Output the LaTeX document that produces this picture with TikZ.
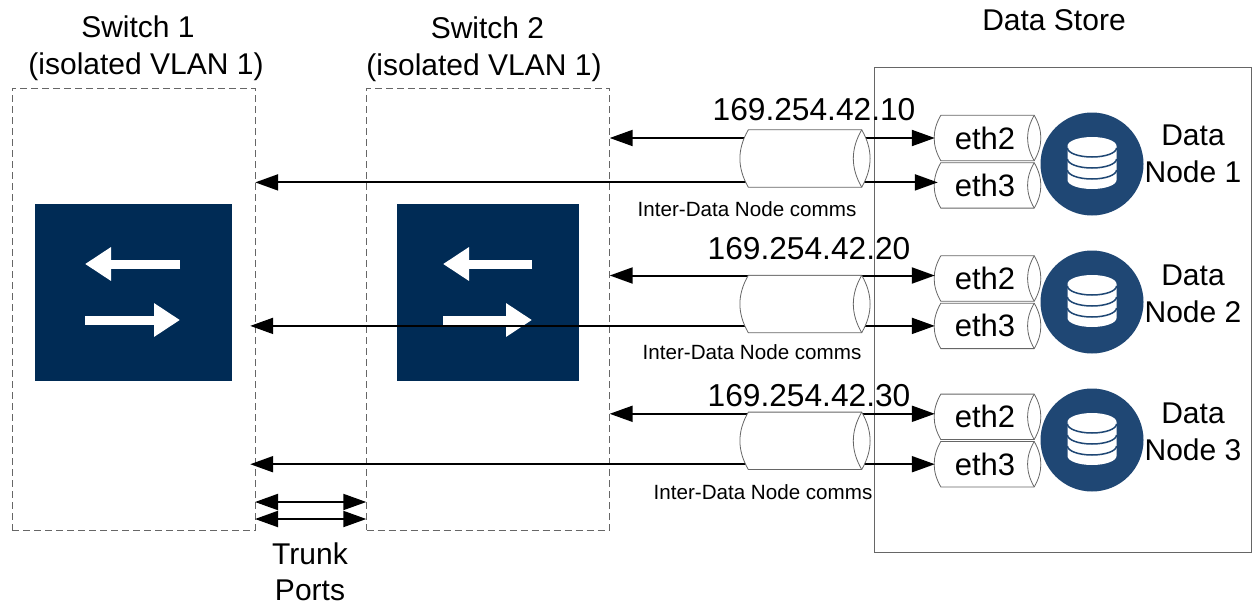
\documentclass[tikz,border=0pt]{standalone}
\usepackage{fontspec}
\setmainfont{Liberation Sans}
\usepackage{xcolor}
\usetikzlibrary{arrows.meta,positioning}
\definecolor{switchblue}{HTML}{002B55}
\definecolor{nodeblue}{HTML}{1F4774}
\tikzset{
  label text/.style={font=\fontsize{30}{36.5}\selectfont, align=center, inner sep=0pt},
  ip text/.style={font=\fontsize{31.7}{36}\selectfont, inner sep=0pt},
  comms text/.style={font=\fontsize{20.6}{24}\selectfont, inner sep=0pt},
  switch box/.style={draw=black!60, dashed, dash pattern=on 7pt off 4pt, minimum width=243pt, minimum height=442pt, inner sep=0pt},
  switch icon/.style={fill=switchblue, inner sep=0pt},
  port/.style={minimum width=105pt, minimum height=45pt, inner sep=0pt, font=\fontsize{31}{36}\selectfont, execute at end node=\kern5pt},
  bond/.style={minimum width=128pt, minimum height=57pt, inner sep=0pt},
  tube line/.style={draw=black!60, line width=0.8pt},
  data node/.style={circle, fill=nodeblue, minimum size=103pt, inner sep=0pt},
  link/.style={line width=2pt, {Triangle[length=23pt,width=16pt]}-{Triangle[length=23pt,width=16pt]}},
  white arrow/.style={white, line width=9pt, -{Triangle[length=26pt,width=32pt]}},
}
\newcommand{\tube}[3]{
  \path[tube line, #3] ([xshift=#2]#1.north west) -- ([xshift=-#2]#1.north east)
    to[bend left=30] ([xshift=-#2]#1.south east)
    -- ([xshift=#2]#1.south west) to[bend left=30] ([xshift=#2]#1.north west) -- cycle;
  \draw[tube line] ([xshift=-#2]#1.north east) to[bend right=30] ([xshift=-#2]#1.south east);
}
\newcommand{\dbicon}[1]{
  \fill[white] ([xshift=-24.5pt,yshift=18pt]#1.center) arc[x radius=24.5pt,y radius=9pt,start angle=180,end angle=0]
    -- ([xshift=24.5pt,yshift=-16pt]#1.center) arc[x radius=24.5pt,y radius=9pt,start angle=0,end angle=-180] -- cycle;
  \draw[nodeblue, line width=1.5pt] ([xshift=-24.5pt,yshift=16pt]#1.center) arc[x radius=24.5pt,y radius=9pt,start angle=180,end angle=360];
  \draw[nodeblue, line width=1.5pt] ([xshift=-24.5pt,yshift=5pt]#1.center) arc[x radius=24.5pt,y radius=9pt,start angle=180,end angle=360];
  \draw[nodeblue, line width=1.5pt] ([xshift=-24.5pt,yshift=-6pt]#1.center) arc[x radius=24.5pt,y radius=9pt,start angle=180,end angle=360];
}
\begin{document}
\begin{tikzpicture}[x=1pt,y=-1pt]
  \useasboundingbox (0,0) rectangle (1252,605);
  \node[switch box]                    (switch 1) at (133.5,309) {};
  \node[switch box]                    (switch 2) at (488,309) {};
  \node[draw=black!60, minimum width=377pt, minimum height=485pt, inner sep=0pt]
                                       (store) at (1062.5,309.5) {};
  \node[switch icon, minimum width=197pt, minimum height=177pt] (icon 1) at (133.5,292.5) {};
  \node[switch icon, minimum width=182pt, minimum height=177pt] (icon 2) at (488,292.5) {};

  \draw[white arrow] (180,264) -- (85,264);
  \draw[white arrow] (85,320) -- (180,320);
  \draw[white arrow] (532,264) -- (443,264);
  \draw[white arrow] (443,320) -- (532,320);

  \node[label text]                    (title 1) at (146,48)
  {\hspace*{-16pt}Switch 1\hspace*{0pt}\\(isolated VLAN 1)};
  \node[label text]                    (title 2) at (484,49)
  {\hspace*{7pt}Switch 2\\(isolated VLAN 1)};
  \node[label text]                    (title store) at (1054,20)
  {Data Store};

  \node[port]                          (eth2 a) at (987.5,138) {eth2};
  \node[port, below=2pt of eth2 a]     (eth3 a) {eth3};
  \node[port]                          (eth2 b) at (987.5,278.5) {eth2};
  \node[port, below=2pt of eth2 b]     (eth3 b) {eth3};
  \node[port]                          (eth2 c) at (987.5,416.8) {eth2};
  \node[port, below=2pt of eth2 c]     (eth3 c) {eth3};
  \tube{eth2 a}{6pt}{draw}
  \tube{eth3 a}{6pt}{draw}
  \tube{eth2 b}{6pt}{draw}
  \tube{eth3 b}{6pt}{draw}
  \tube{eth2 c}{6pt}{draw}
  \tube{eth3 c}{6pt}{draw}

  \draw[link] (eth2 a.west -| switch 2.east) -- (eth2 a.west);
  \draw[link] ([xshift=3pt,yshift=3pt]eth3 a.west) -- ([yshift=3pt]eth3 a.west -| switch 1.east);
  \draw[link] ([yshift=3pt]eth2 b.west -| switch 2.east) -- ([yshift=3pt]eth2 b.west);
  \draw[link] ([xshift=-5pt]eth3 b.west -| switch 1.east) -- (eth3 b.west);
  \draw[link] ([yshift=3pt]eth2 c.west -| switch 2.east) -- ([yshift=3pt]eth2 c.west);
  \draw[link] ([xshift=-5pt]eth3 c.west -| switch 1.east) -- (eth3 c.west);

  \node[bond]                          (bond a) at (805,158.5) {};
  \node[bond]                          (bond b) at (805,304) {};
  \node[bond]                          (bond c) at (805,440.8) {};
  \tube{bond a}{7.5pt}{draw,fill=white}
  \tube{bond b}{7.5pt}{draw,fill=white}
  \tube{bond c}{7.5pt}{draw,fill=white}

  \node[ip text]                       (ip a) at (814,110) {169.254.42.10};
  \node[ip text]                       (ip b) at (809,249) {169.254.42.20};
  \node[ip text]                       (ip c) at (809,396) {169.254.42.30};
  \node[comms text]                    (comms a) at (747,209) {Inter-Data Node comms};
  \node[comms text]                    (comms b) at (752,352) {Inter-Data Node comms};
  \node[comms text]                    (comms c) at (763,492) {Inter-Data Node comms};

  \node[data node]                     (data a) at (1092,164) {};
  \node[data node]                     (data b) at (1092,302) {};
  \node[data node]                     (data c) at (1092,440) {};
  \dbicon{data a}
  \dbicon{data b}
  \dbicon{data c}
  \node[label text]                    (name a) at (1193,154) {Data\\Node 1};
  \node[label text]                    (name b) at (1193,294) {Data\\Node 2};
  \node[label text]                    (name c) at (1193,432) {Data\\Node 3};

  \coordinate (trunk left a)  at (255,502);
  \coordinate (trunk left b)  at (255,519);
  \draw[link] (trunk left a) -- (trunk left a -| switch 2.west);
  \draw[link] (trunk left b) -- (trunk left b -| switch 2.west);
  \node[label text]                    (trunk) at (310,572) {Trunk\\Ports};
\end{tikzpicture}
\end{document}
